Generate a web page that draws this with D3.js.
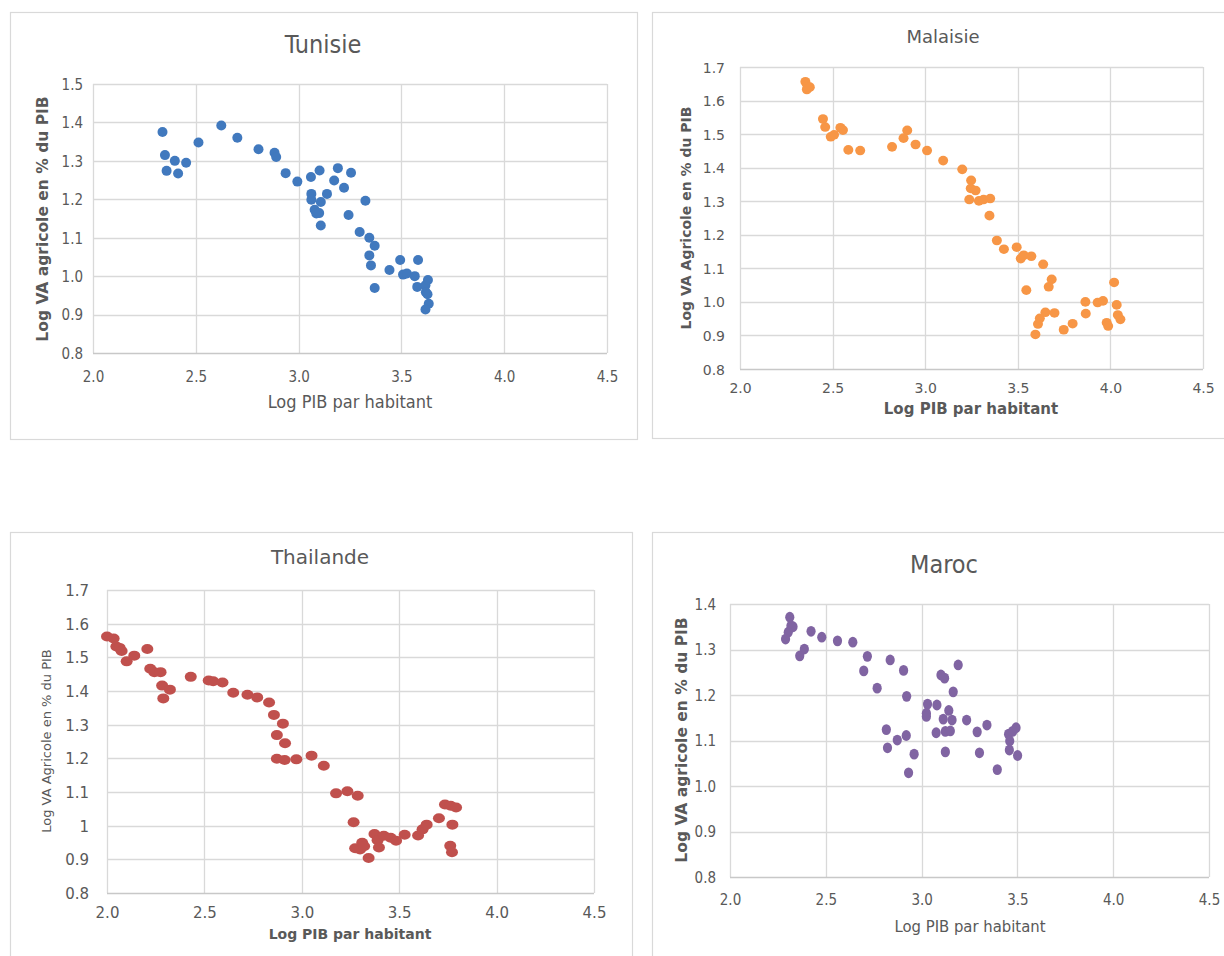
<!DOCTYPE html>
<html>
<head>
<meta charset="utf-8">
<script src="https://cdn.jsdelivr.net/npm/d3@7/dist/d3.min.js"></script>
<style>
  body { margin: 0; background: #fff; }
  svg { display: block; }
</style>
</head>
<body>
<div id="canvas"></div>
<script>
// axis ticks
const xTicks = [2.0, 2.5, 3.0, 3.5, 4.0, 4.5];
const yTicksTunisie = [0.8, 0.9, 1.0, 1.1, 1.2, 1.3, 1.4, 1.5];
const yTicksMalaisie = [0.8, 0.9, 1.0, 1.1, 1.2, 1.3, 1.4, 1.5, 1.6, 1.7];
const yTicksThailande = [0.8, 0.9, 1.0, 1.1, 1.2, 1.3, 1.4, 1.5, 1.6, 1.7];
const yTicksMaroc = [0.8, 0.9, 1.0, 1.1, 1.2, 1.3, 1.4];

// [log PIB par habitant, log VA agricole en % du PIB]
const tunisie = [
  [2.338,1.375],[2.350,1.315],[2.358,1.274],[2.398,1.300],[2.414,1.267],[2.453,1.295],
  [2.513,1.348],[2.624,1.392],[2.702,1.360],[2.805,1.330],[2.883,1.321],[2.891,1.310],
  [2.937,1.268],[2.994,1.246],[3.060,1.258],[3.102,1.275],[3.191,1.281],[3.255,1.269],
  [3.173,1.249],[3.221,1.230],[3.138,1.214],[3.062,1.214],[3.062,1.199],[3.108,1.193],
  [3.078,1.173],[3.086,1.163],[3.100,1.164],[3.108,1.132],[3.243,1.159],[3.325,1.196],
  [3.297,1.115],[3.344,1.100],[3.370,1.079],[3.344,1.054],[3.352,1.028],[3.370,0.969],
  [3.442,1.016],[3.494,1.042],[3.508,1.004],[3.527,1.007],[3.565,1.000],[3.581,1.042],
  [3.577,0.972],[3.617,0.976],[3.629,0.990],[3.619,0.958],[3.627,0.953],[3.633,0.928],
  [3.617,0.913]
];
const malaisie = [
  [2.353,1.656],[2.365,1.642],[2.361,1.633],[2.377,1.640],[2.448,1.545],[2.460,1.521],
  [2.490,1.492],[2.508,1.498],[2.542,1.519],[2.556,1.512],[2.585,1.453],[2.649,1.451],
  [2.821,1.462],[2.883,1.488],[2.903,1.511],[2.948,1.469],[3.010,1.451],[3.097,1.421],
  [3.200,1.395],[3.248,1.362],[3.246,1.338],[3.272,1.332],[3.238,1.305],[3.290,1.301],
  [3.315,1.305],[3.351,1.308],[3.347,1.257],[3.387,1.183],[3.425,1.157],[3.494,1.163],
  [3.516,1.129],[3.532,1.139],[3.573,1.136],[3.637,1.112],[3.546,1.035],[3.667,1.045],
  [3.683,1.067],[3.595,0.903],[3.609,0.934],[3.619,0.951],[3.649,0.969],[3.698,0.967],
  [3.748,0.917],[3.796,0.935],[3.865,1.000],[3.867,0.965],[3.931,0.998],[3.960,1.003],
  [3.980,0.938],[3.988,0.928],[4.020,1.058],[4.034,0.991],[4.040,0.961],[4.054,0.948]
];
const thailande = [
  [2.000,1.562],[2.034,1.556],[2.048,1.532],[2.065,1.528],[2.075,1.519],[2.101,1.488],
  [2.140,1.505],[2.207,1.525],[2.222,1.466],[2.243,1.456],[2.275,1.456],[2.283,1.416],
  [2.323,1.404],[2.289,1.378],[2.430,1.442],[2.522,1.431],[2.545,1.429],[2.593,1.425],
  [2.648,1.395],[2.721,1.389],[2.771,1.381],[2.832,1.366],[2.857,1.329],[2.903,1.303],
  [2.872,1.269],[2.914,1.245],[2.872,1.199],[2.912,1.195],[2.972,1.197],[3.050,1.208],
  [3.113,1.178],[3.176,1.096],[3.234,1.102],[3.287,1.089],[3.266,1.010],[3.274,0.933],
  [3.299,0.929],[3.310,0.949],[3.320,0.939],[3.343,0.904],[3.373,0.975],[3.389,0.957],
  [3.396,0.935],[3.421,0.970],[3.456,0.964],[3.484,0.955],[3.528,0.973],[3.597,0.971],
  [3.620,0.989],[3.641,1.003],[3.704,1.022],[3.735,1.063],[3.764,1.059],[3.792,1.054],
  [3.773,1.003],[3.762,0.940],[3.771,0.921]
];
const maroc = [
  [2.312,1.371],[2.318,1.352],[2.329,1.350],[2.304,1.338],[2.290,1.323],[2.423,1.340],
  [2.479,1.327],[2.561,1.319],[2.641,1.316],[2.388,1.301],[2.364,1.286],[2.717,1.285],
  [2.836,1.277],[2.698,1.253],[2.906,1.254],[3.191,1.266],[3.101,1.244],[3.120,1.237],
  [2.768,1.215],[3.165,1.207],[2.922,1.197],[3.031,1.180],[3.080,1.178],[3.025,1.160],
  [3.025,1.153],[3.142,1.166],[3.113,1.147],[3.159,1.145],[3.235,1.145],[3.341,1.134],
  [3.290,1.119],[3.076,1.117],[3.124,1.120],[3.150,1.121],[2.816,1.124],[2.873,1.101],
  [2.920,1.111],[2.822,1.084],[2.961,1.070],[3.124,1.075],[3.302,1.073],[2.932,1.029],
  [3.395,1.036],[3.454,1.114],[3.475,1.120],[3.493,1.128],[3.460,1.099],[3.458,1.079],
  [3.501,1.067]
];

const condensed = "'DejaVu Sans Condensed', 'Liberation Sans Narrow', 'DejaVu Sans', sans-serif";
const wide = "'DejaVu Sans', Verdana, sans-serif";
const f1 = d3.format(".1f");
const fThai = d => (d === 1 ? "1" : f1(d));

const panels = [
  { title: "Tunisie", data: tunisie, color: "#4179BE", box: [10, 12, 627, 427],
    plot: [93, 84, 607, 353], yDomain: [0.8, 1.5], yTicks: yTicksTunisie, yFmt: f1,
    font: condensed, titleX: 323, titleY: 53, titleSize: 25,
    tickSize: 15, tickDx: 10, xTickY: 382,
    xTitle: "Log PIB par habitant", xTitleX: 350, xTitleY: 408, xTitleSize: 18, xTitleWeight: "normal", xTitleFont: condensed,
    yTitle: "Log VA agricole en % du PIB", yTitleX: 48, yTitleY: 219, yTitleSize: 15.5, yTitleWeight: "bold", yTitleFont: wide,
    rx: 5, ry: 5 },
  { title: "Malaisie", data: malaisie, color: "#F79646", box: [652, 12, 600, 426],
    plot: [740, 67, 1203, 369], yDomain: [0.8, 1.7], yTicks: yTicksMalaisie, yFmt: f1,
    font: wide, titleX: 943, titleY: 43, titleSize: 18,
    tickSize: 14, tickDx: 15, xTickY: 393,
    xTitle: "Log PIB par habitant", xTitleX: 971, xTitleY: 414, xTitleSize: 15, xTitleWeight: "bold", xTitleFont: wide,
    yTitle: "Log VA Agricole en % du PIB", yTitleX: 691, yTitleY: 218, yTitleSize: 14, yTitleWeight: "bold", yTitleFont: wide,
    rx: 5, ry: 4.8 },
  { title: "Thailande", data: thailande, color: "#C0504D", box: [10, 532, 622, 440],
    plot: [107, 590, 594, 893], yDomain: [0.8, 1.7], yTicks: yTicksThailande, yFmt: fThai,
    font: wide, titleX: 320, titleY: 564, titleSize: 20,
    tickSize: 15, tickDx: 18, xTickY: 918,
    xTitle: "Log PIB par habitant", xTitleX: 350, xTitleY: 939, xTitleSize: 14, xTitleWeight: "bold", xTitleFont: wide,
    yTitle: "Log VA Agricole en % du PIB", yTitleX: 51, yTitleY: 741, yTitleSize: 13, yTitleWeight: "normal", yTitleFont: wide,
    rx: 6, ry: 5 },
  { title: "Maroc", data: maroc, color: "#8064A2", box: [652, 532, 600, 440],
    plot: [730, 604, 1209, 877], yDomain: [0.8, 1.4], yTicks: yTicksMaroc, yFmt: f1,
    font: condensed, titleX: 944, titleY: 573, titleSize: 25,
    tickSize: 15, tickDx: 14, xTickY: 905,
    xTitle: "Log PIB par habitant", xTitleX: 970, xTitleY: 932, xTitleSize: 16.5, xTitleWeight: "normal", xTitleFont: condensed,
    yTitle: "Log VA agricole en % du PIB", yTitleX: 687, yTitleY: 740, yTitleSize: 15.5, yTitleWeight: "bold", yTitleFont: wide,
    rx: 4.6, ry: 5.4 }
];

const svg = d3.select("#canvas").append("svg")
  .attr("width", 1224)
  .attr("height", 956);

panels.forEach(p => {
  const g = svg.append("g");

  g.append("rect")
    .attr("x", p.box[0] + 0.5).attr("y", p.box[1] + 0.5)
    .attr("width", p.box[2]).attr("height", p.box[3])
    .attr("fill", "#fff").attr("stroke", "#d9d9d9").attr("stroke-width", 1.2);

  const x = d3.scaleLinear().domain([2.0, 4.5]).range([p.plot[0], p.plot[2]]);
  const y = d3.scaleLinear().domain(p.yDomain).range([p.plot[3], p.plot[1]]);

  // grid
  g.append("g").selectAll("line").data(xTicks).enter().append("line")
    .attr("x1", d => Math.round(x(d)) + 0.5).attr("x2", d => Math.round(x(d)) + 0.5)
    .attr("y1", p.plot[1]).attr("y2", p.plot[3])
    .attr("stroke", "#d9d9d9").attr("stroke-width", 1.3);
  g.append("g").selectAll("line").data(p.yTicks).enter().append("line")
    .attr("x1", p.plot[0]).attr("x2", p.plot[2])
    .attr("y1", d => Math.round(y(d)) + 0.5).attr("y2", d => Math.round(y(d)) + 0.5)
    .attr("stroke", d => d === p.yDomain[0] ? "#c8c8c8" : "#d9d9d9").attr("stroke-width", 1.3);

  // axes labels via d3 axes, domain and tick lines removed
  const ax = g.append("g")
    .attr("transform", `translate(0,${p.xTickY})`)
    .call(d3.axisBottom(x).tickValues(xTicks).tickFormat(f1).tickSize(0).tickPadding(0));
  ax.select(".domain").remove();
  ax.selectAll("text").attr("dy", 0).attr("y", 0);

  const ay = g.append("g")
    .attr("transform", `translate(${p.plot[0] - p.tickDx},0)`)
    .call(d3.axisLeft(y).tickValues(p.yTicks).tickFormat(p.yFmt).tickSize(0).tickPadding(0));
  ay.select(".domain").remove();
  ay.selectAll("text").attr("dy", "0.36em");

  [ax, ay].forEach(a => a.selectAll("text")
    .attr("fill", "#595959")
    .style("font-family", p.font)
    .style("font-size", p.tickSize + "px"));

  // points
  g.append("g").selectAll("ellipse").data(p.data).enter().append("ellipse")
    .attr("cx", d => x(d[0])).attr("cy", d => y(d[1]))
    .attr("rx", p.rx).attr("ry", p.ry)
    .attr("fill", p.color);

  // titles
  g.append("text")
    .attr("x", p.titleX).attr("y", p.titleY)
    .attr("text-anchor", "middle")
    .attr("fill", "#595959")
    .style("font-family", p.font).style("font-size", p.titleSize + "px")
    .text(p.title);

  g.append("text")
    .attr("x", p.xTitleX).attr("y", p.xTitleY)
    .attr("text-anchor", "middle")
    .attr("fill", "#595959")
    .style("font-family", p.xTitleFont).style("font-size", p.xTitleSize + "px")
    .style("font-weight", p.xTitleWeight)
    .text(p.xTitle);

  g.append("text")
    .attr("transform", `translate(${p.yTitleX},${p.yTitleY}) rotate(-90)`)
    .attr("text-anchor", "middle")
    .attr("fill", "#595959")
    .style("font-family", p.yTitleFont).style("font-size", p.yTitleSize + "px")
    .style("font-weight", p.yTitleWeight)
    .text(p.yTitle);
});
</script>
</body>
</html>
